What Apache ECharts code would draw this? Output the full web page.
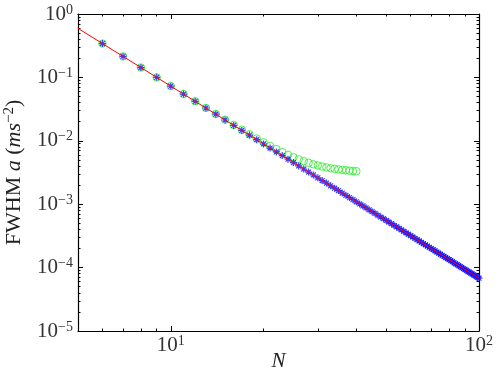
<!DOCTYPE html>
<html>
<head>
<meta charset="utf-8">
<script src="https://cdn.jsdelivr.net/npm/echarts@6/dist/echarts.min.js"></script>
<style>html,body{margin:0;padding:0;background:#fff;}#c{width:499px;height:374px;}</style>
</head>
<body>
<div id="c"></div>
<script>
const nGreen = [6,7,8,9,10,11,12,13,14,15,16,17,18,19,20,21,22,23,24,25,26,27,28,29,30,31,32,33,34,35,36,37,38,39,40];
const fwhmGreen = [0.342,0.2145,0.1431,0.1001,0.0729,0.0546,0.0420,0.0330,0.02645,0.02153,0.0178,0.01491,0.01265,0.01087,0.00945,0.00830,0.00738,0.00662,0.00601,0.00551,0.00510,0.00477,0.00449,0.00426,0.00408,0.00393,0.00380,0.00369,0.00361,0.00354,0.00348,0.00343,0.00338,0.00335,0.00332];
const nBlue = [6,7,8,9,10,11,12,13,14,15,16,17,18,19,20,21,22,23,24,25,26,27,28,29,30,31,32,33,34,35,36,37,38,39,40,41,42,43,44,45,46,47,48,49,50,51,52,53,54,55,56,57,58,59,60,61,62,63,64,65,66,67,68,69,70,71,72,73,74,75,76,77,78,79,80,81,82,83,84,85,86,87,88,89,90,91,92,93,94,95,96,97,98,99,100];
const fwhmBlue = [0.342,0.2145,0.1431,0.1001,0.0728,0.0545,0.0419,0.0329,0.0263,0.0213,0.0175,0.0146,0.0123,0.0104,0.00891,0.00769,0.00668,0.00584,0.00513,0.00453,0.00402,0.00359,0.00321,0.00289,0.00261,0.00236,0.00215,0.00195,0.00179,0.00164,0.00150,0.00138,0.00127,0.00118,0.00109,1.01e-3,9.41e-4,8.76e-4,8.17e-4,7.63e-4,7.14e-4,6.69e-4,6.28e-4,5.90e-4,5.55e-4,5.23e-4,4.93e-4,4.65e-4,4.39e-4,4.16e-4,3.94e-4,3.73e-4,3.54e-4,3.36e-4,3.19e-4,3.04e-4,2.89e-4,2.75e-4,2.63e-4,2.51e-4,2.39e-4,2.29e-4,2.19e-4,2.09e-4,2.00e-4,1.92e-4,1.84e-4,1.76e-4,1.69e-4,1.62e-4,1.56e-4,1.50e-4,1.44e-4,1.39e-4,1.34e-4,1.29e-4,1.24e-4,1.19e-4,1.15e-4,1.11e-4,1.07e-4,1.04e-4,1.00e-4,9.67e-5,9.35e-5,9.04e-5,8.75e-5,8.47e-5,8.20e-5,7.94e-5,7.69e-5,7.45e-5,7.22e-5,7.01e-5,6.80e-5];
const fitN = [5, 100];
const fitFwhm = [0.594, 6.8e-5];
const xTickValues = [10, 100];
const xTickExps = ['1', '2'];
const yTickValues = [1e-5, 1e-4, 1e-3, 1e-2, 1e-1, 1];
const yTickExps = ['\u22125', '\u22124', '\u22123', '\u22122', '\u22121', '0'];
const xMinorTicks = [6,7,8,9,20,30,40,50,60,70,80,90];
const yMinorTicks = [];
for (let d = -5; d < 0; d++) { for (let m = 2; m <= 9; m++) { yMinorTicks.push(+(m * Math.pow(10, d)).toPrecision(3)); } }

const zip = (a, b) => a.map((v, i) => [v, b[i]]);
const SERIF = 'Liberation Serif';
const rich = {
  b: { fontFamily: SERIF, fontSize: 21, color: '#333', lineHeight: 22 },
  s: { fontFamily: SERIF, fontSize: 14, color: '#333', lineHeight: 12, verticalAlign: 'top' }
};
function fmt(values, exps) {
  return function (v) {
    let idx = values.findIndex(t => Math.abs(Math.log10(t) - Math.log10(v)) < 1e-6);
    return idx < 0 ? '' : '{b|10}{s|' + exps[idx] + '}';
  };
}
const lineBlack = { show: true, lineStyle: { color: '#000', width: 1.2 } };
function xAx(pos, major, showLabel, showLine) {
  return {
    type: 'log', logBase: 10, min: 5, max: 100, position: pos, gridIndex: 0,
    axisLine: showLine ? lineBlack : { show: false },
    splitLine: { show: false },
    axisTick: { show: true, inside: true, length: major ? 5 : 2.5, lineStyle: { color: '#000', width: 1 },
      customValues: major ? xTickValues : xMinorTicks },
    axisLabel: showLabel ? { show: true, margin: 3, rich: rich, formatter: fmt(xTickValues, xTickExps), customValues: xTickValues } : { show: false },
    name: showLabel ? 'N' : '', nameLocation: 'middle', nameGap: 20, nameMoveOverlap: false,
    nameTextStyle: { fontFamily: SERIF, fontStyle: 'italic', fontSize: 21, color: '#222' }
  };
}
function yAx(pos, major, showLabel, showLine) {
  return {
    type: 'log', logBase: 10, min: 1e-5, max: 1, position: pos, gridIndex: 0,
    axisLine: showLine ? lineBlack : { show: false },
    splitLine: { show: false },
    axisTick: { show: true, inside: true, length: major ? 5 : 2.5, lineStyle: { color: '#000', width: 1 },
      customValues: major ? yTickValues : yMinorTicks },
    axisLabel: showLabel ? { show: true, margin: 5, rich: rich, formatter: fmt(yTickValues, yTickExps), customValues: yTickValues } : { show: false },
    name: showLabel ? '{r|FWHM }{i|a}{r| (}{i|ms}{s|\u22122}{r|)}' : '',
    nameLocation: 'middle', nameRotate: 90, nameGap: 52, nameMoveOverlap: false,
    nameTextStyle: {
      rich: {
        r: { fontFamily: SERIF, fontSize: 22, color: '#222', lineHeight: 24 },
        i: { fontFamily: SERIF, fontSize: 22, fontStyle: 'italic', color: '#222', lineHeight: 24 },
        s: { fontFamily: SERIF, fontSize: 15, color: '#222', lineHeight: 12, verticalAlign: 'top' }
      }
    }
  };
}
const chart = echarts.init(document.getElementById('c'), null, { renderer: 'canvas' });
chart.setOption({
  animation: false,
  backgroundColor: '#fff',
  grid: { left: 78, right: 20, top: 14, bottom: 43, containLabel: false, outerBoundsMode: 'none' },
  xAxis: [xAx('bottom', true, true, true), xAx('bottom', false, false, false), xAx('top', true, false, true), xAx('top', false, false, false)],
  yAxis: [yAx('left', true, true, true), yAx('left', false, false, false), yAx('right', true, false, true), yAx('right', false, false, false)],
  series: [
    { type: 'scatter', xAxisIndex: 0, yAxisIndex: 0, z: 2, data: zip(nGreen, fwhmGreen),
      symbol: 'circle', symbolSize: 7.5,
      itemStyle: { color: 'rgba(0,0,0,0)', borderColor: '#22ee22', borderWidth: 1 } },
    { type: 'scatter', xAxisIndex: 0, yAxisIndex: 0, z: 3, data: zip(nBlue, fwhmBlue),
      symbol: 'path://M5,0L5,10M0,5L10,5M1.5,1.5L8.5,8.5M1.5,8.5L8.5,1.5', symbolSize: 7, symbolKeepAspect: true,
      itemStyle: { color: 'none', borderColor: '#1010ff', borderWidth: 1.2 } },
    { type: 'line', xAxisIndex: 0, yAxisIndex: 0, z: 4, data: zip(fitN, fitFwhm), showSymbol: false,
      lineStyle: { color: '#ff0000', width: 1 } }
  ]
});
</script>
</body>
</html>
